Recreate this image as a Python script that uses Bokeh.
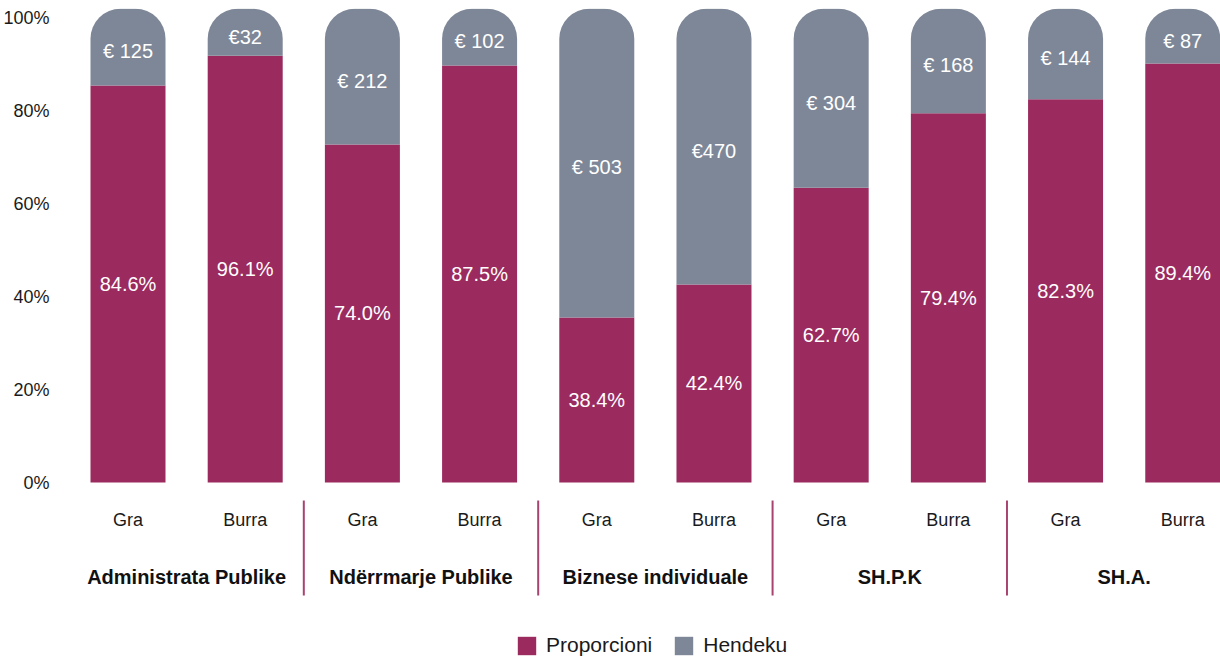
from bokeh.plotting import figure
from bokeh.models import Range1d, FixedTicker, ColumnDataSource, Legend, LegendItem
from bokeh.core.properties import value
from bokeh.embed import file_html
from bokeh.resources import INLINE

# ---------------- data ----------------
groups = ["Administrata Publike", "Ndërrmarje Publike", "Biznese individuale", "SH.P.K", "SH.A."]
genders = ["Gra", "Burra"]
# bar heights (proportion, %) as drawn
proporcioni = [85.4, 91.8, 72.7, 89.7, 35.5, 42.6, 63.4, 79.4, 82.4, 90.1]
# printed labels
proporcioni_labels = ["84.6%", "96.1%", "74.0%", "87.5%", "38.4%", "42.4%", "62.7%", "79.4%", "82.3%", "89.4%"]
hendeku_labels = ["€ 125", "€32", "€ 212", "€ 102", "€ 503", "€470", "€ 304", "€ 168", "€ 144", "€ 87"]
y_ticks = [0, 20, 40, 60, 80, 100]
y_tick_labels = ["0%", "20%", "40%", "60%", "80%", "100%"]

MAGENTA = "#9b2a5f"
GREY = "#7e8797"
SEP = "#a8426f"
FONT = value("Liberation Sans")
TOP = 101.9

n = len(proporcioni)
xs = list(range(n))
sub_labels = [genders[i % 2] for i in xs]

src = ColumnDataSource(dict(
    x=xs,
    prop=proporcioni,
    top=[TOP] * n,
    prop_mid=[v / 2 for v in proporcioni],
    gap_mid=[(v + 100) / 2 for v in proporcioni],
    plabel=proporcioni_labels,
    hlabel=hendeku_labels,
    sub=sub_labels,
    sub_y=[-7.96] * n,
))

p = figure(width=1220, height=657, output_backend="svg", toolbar_location=None,
           x_range=Range1d(-0.576, 9.322), y_range=Range1d(-37.63, 101.94),
           min_border_left=60, min_border_right=0, min_border_top=8, min_border_bottom=0)
p.outline_line_color = None
p.xgrid.visible = False
p.ygrid.visible = False
p.xaxis.visible = False

ya = p.yaxis[0]
ya.ticker = FixedTicker(ticks=y_ticks)
ya.major_label_overrides = {t: l for t, l in zip(y_ticks, y_tick_labels)}
ya.axis_line_color = None
ya.major_tick_line_color = None
ya.minor_tick_line_color = None
ya.major_label_standoff = 5
ya.major_label_text_align = "center"
ya.major_label_text_font = "Liberation Sans"
ya.major_label_text_font_size = "18px"
ya.major_label_text_color = "#1a1a1a"

r1 = p.vbar(x="x", bottom=0, top="prop", width=0.64, source=src,
            fill_color=MAGENTA, line_color=None)
r2 = p.vbar(x="x", bottom="prop", top="top", width=0.64, source=src,
            fill_color=GREY, line_color=None, border_radius=(30, 30, 0, 0))

p.text(x="x", y="prop_mid", text="plabel", source=src, text_color="white",
       text_font=FONT, text_font_size="20px", text_align="center", text_baseline="middle")
p.text(x="x", y="gap_mid", text="hlabel", source=src, text_color="white",
       text_font=FONT, text_font_size="20px", text_align="center", text_baseline="middle")
p.text(x="x", y="sub_y", text="sub", source=src, text_color="#1a1a1a",
       text_font=FONT, text_font_size="18px", text_align="center", text_baseline="middle")

gsrc = ColumnDataSource(dict(
    x=[2 * i + 0.5 for i in range(len(groups))],
    y=[-20.4] * len(groups),
    t=groups,
))
p.text(x="x", y="y", text="t", source=gsrc, text_color="#111111",
       text_font=FONT, text_font_size="20px", text_font_style="bold",
       text_align="center", text_baseline="middle")

seps = [2 * i + 1.5 for i in range(len(groups) - 1)]
p.segment(x0=seps, x1=seps, y0=[-3.87] * len(seps), y1=[-24.3] * len(seps),
          line_color=SEP, line_width=2)

legend = Legend(items=[LegendItem(label="Proporcioni", renderers=[r1]),
                       LegendItem(label="Hendeku", renderers=[r2])],
                orientation="horizontal", location=(455, 0))
legend.border_line_color = None
legend.background_fill_alpha = 0
legend.margin = 0
legend.padding = 1
legend.spacing = 20
legend.label_standoff = 8
legend.glyph_width = 23
legend.glyph_height = 23
legend.label_height = 23
legend.label_text_font = "Liberation Sans"
legend.label_text_font_size = "21px"
legend.label_text_color = "#1a1a1a"
p.add_layout(legend, "center")

open("out.html", "w").write(file_html(p, INLINE))
